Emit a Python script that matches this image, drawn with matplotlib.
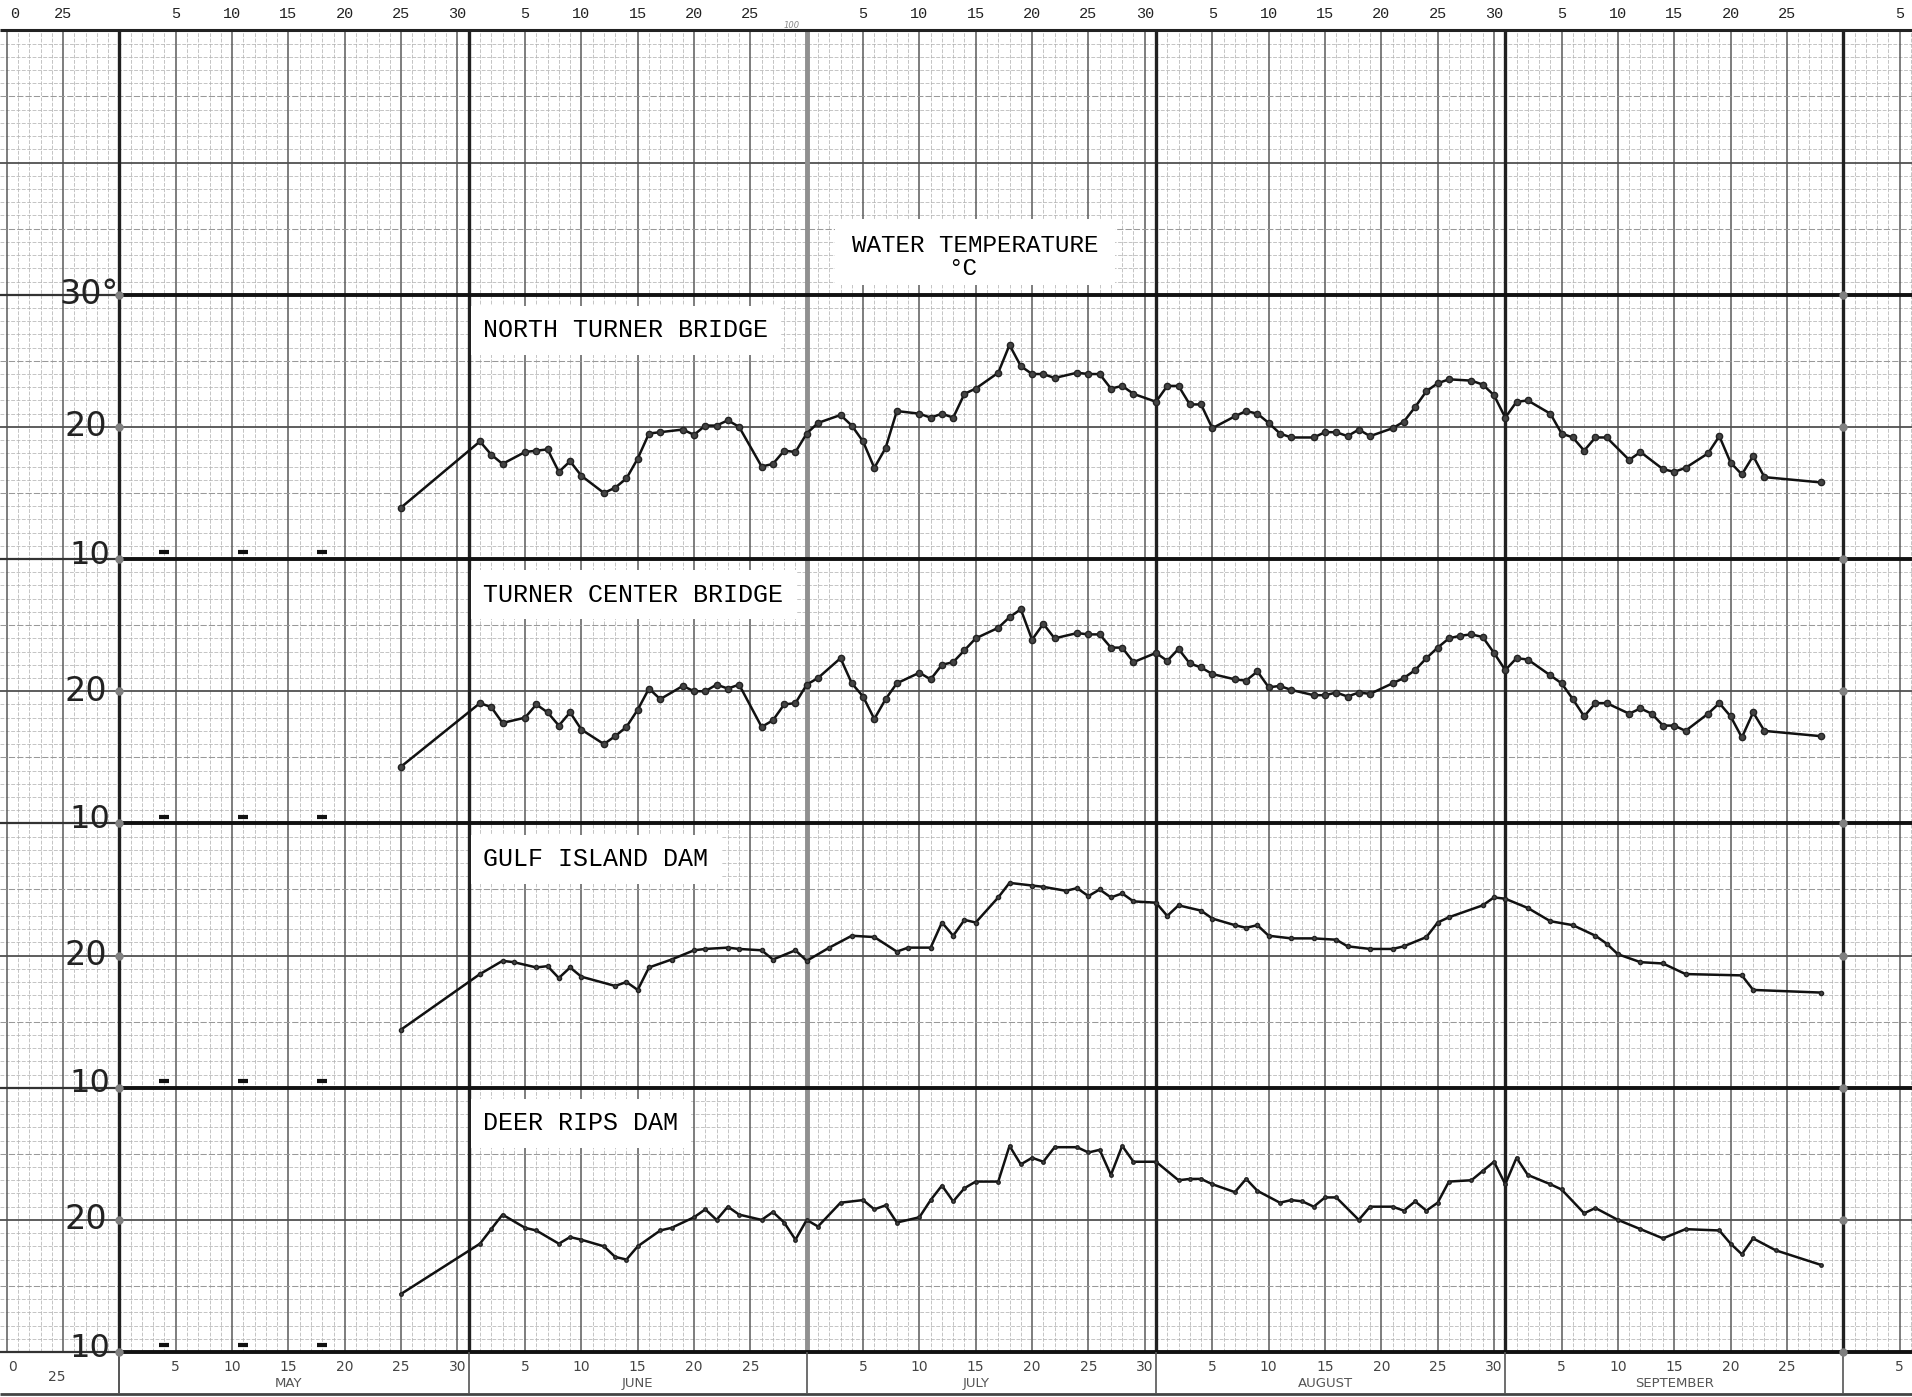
import matplotlib.pyplot as plt
import numpy as np

# day index: days after April 30 (May 1 = 1, June 1 = 32, July 1 = 62, Aug 1 = 93, Sept 1 = 124)
north_days = [25, 32, 33, 34, 36, 37, 38, 39, 40, 41, 43, 44, 45, 46, 47, 48, 50, 51, 52, 53,
              54, 55, 57, 58, 59, 60, 61, 62, 64, 65, 66, 67, 68, 69, 71, 72, 73, 74, 75, 76,
              78, 79, 80, 81, 82, 83, 85, 86, 87, 88, 89, 90, 92, 93, 94, 95, 96, 97, 99, 100,
              101, 102, 103, 104, 106, 107, 108, 109, 110, 111, 113, 114, 115, 116, 117, 118, 120, 121, 122, 123,
              124, 125, 127, 128, 129, 130, 131, 132, 134, 135, 137, 138, 139, 141, 142, 143, 144, 145, 146, 151]
north_temp = [13.9, 18.9, 17.9, 17.2, 18.1, 18.2, 18.3, 16.6, 17.4, 16.3, 15.0, 15.4, 16.1, 17.6, 19.5, 19.6, 19.8, 19.4, 20.1, 20.1,
              20.5, 20.0, 17.0, 17.2, 18.2, 18.1, 19.5, 20.3, 20.9, 20.1, 18.9, 16.9, 18.4, 21.2, 21.0, 20.7, 21.0, 20.7, 22.5, 22.9,
              24.1, 26.2, 24.6, 24.0, 24.0, 23.7, 24.1, 24.0, 24.0, 22.9, 23.1, 22.5, 21.9, 23.1, 23.1, 21.7, 21.7, 19.9, 20.8, 21.2,
              21.0, 20.3, 19.5, 19.2, 19.2, 19.6, 19.6, 19.3, 19.8, 19.3, 19.9, 20.4, 21.5, 22.7, 23.3, 23.6, 23.5, 23.2, 22.4, 20.7,
              21.9, 22.0, 21.0, 19.5, 19.2, 18.2, 19.2, 19.2, 17.5, 18.1, 16.8, 16.6, 16.9, 18.0, 19.3, 17.3, 16.4, 17.8, 16.2, 15.8]

center_days = [25, 32, 33, 34, 36, 37, 38, 39, 40, 41, 43, 44, 45, 46, 47, 48, 50, 51, 52, 53,
               54, 55, 57, 58, 59, 60, 61, 62, 64, 65, 66, 67, 68, 69, 71, 72, 73, 74, 75, 76,
               78, 79, 80, 81, 82, 83, 85, 86, 87, 88, 89, 90, 92, 93, 94, 95, 96, 97, 99, 100,
               101, 102, 103, 104, 106, 107, 108, 109, 110, 111, 113, 114, 115, 116, 117, 118, 119, 120, 121, 122,
               123, 124, 125, 127, 128, 129, 130, 131, 132, 134, 135, 136, 137, 138, 139, 141, 142, 143, 144, 145,
               146, 151]
center_temp = [14.3, 19.1, 18.8, 17.6, 18.0, 19.0, 18.4, 17.4, 18.4, 17.1, 16.0, 16.6, 17.3, 18.6, 20.2, 19.4, 20.4, 20.0, 20.0, 20.5,
               20.2, 20.5, 17.3, 17.8, 19.0, 19.1, 20.5, 21.0, 22.5, 20.6, 19.6, 17.9, 19.4, 20.6, 21.4, 20.9, 22.0, 22.2, 23.1, 24.0,
               24.8, 25.6, 26.2, 23.9, 25.1, 24.0, 24.4, 24.3, 24.3, 23.3, 23.3, 22.2, 22.9, 22.3, 23.2, 22.1, 21.8, 21.3, 20.9, 20.8,
               21.5, 20.3, 20.4, 20.1, 19.7, 19.7, 19.9, 19.6, 19.9, 19.8, 20.6, 21.0, 21.6, 22.5, 23.3, 24.0, 24.2, 24.3, 24.1, 22.9,
               21.6, 22.5, 22.4, 21.2, 20.6, 19.4, 18.1, 19.1, 19.1, 18.3, 18.7, 18.3, 17.4, 17.4, 17.0, 18.3, 19.1, 18.1, 16.5, 18.4,
               17.0, 16.6]

gulf_days = [25, 32, 34, 35, 37, 38, 39, 40, 41, 44, 45, 46, 47, 49, 51, 52, 54, 55, 57, 58,
             60, 61, 63, 65, 67, 69, 70, 72, 73, 74, 75, 76, 78, 79, 81, 82, 84, 85, 86, 87,
             88, 89, 90, 92, 93, 94, 96, 97, 99, 100, 101, 102, 104, 106, 108, 109, 111, 113, 114, 116,
             117, 118, 121, 122, 123, 125, 127, 129, 131, 132, 133, 135, 137, 139, 144, 145, 151]
gulf_temp = [14.4, 18.6, 19.6, 19.5, 19.1, 19.2, 18.3, 19.1, 18.4, 17.7, 18.0, 17.4, 19.1, 19.7, 20.4, 20.5, 20.6, 20.5, 20.4, 19.7,
             20.4, 19.6, 20.6, 21.5, 21.4, 20.3, 20.6, 20.6, 22.5, 21.5, 22.7, 22.5, 24.4, 25.5, 25.3, 25.2, 24.9, 25.1, 24.5, 25.0,
             24.4, 24.7, 24.1, 24.0, 23.0, 23.8, 23.4, 22.8, 22.3, 22.1, 22.3, 21.5, 21.3, 21.3, 21.2, 20.7, 20.5, 20.5, 20.7, 21.4,
             22.5, 22.9, 23.8, 24.4, 24.3, 23.6, 22.6, 22.3, 21.5, 20.9, 20.1, 19.5, 19.4, 18.6, 18.5, 17.4, 17.2]

deer_days = [25, 32, 33, 34, 36, 37, 39, 40, 41, 43, 44, 45, 46, 48, 49, 51, 52, 53, 54, 55,
             57, 58, 59, 60, 61, 62, 64, 66, 67, 68, 69, 71, 72, 73, 74, 75, 76, 78, 79, 80,
             81, 82, 83, 85, 86, 87, 88, 89, 90, 92, 94, 95, 96, 97, 99, 100, 101, 103, 104, 105,
             106, 107, 108, 110, 111, 113, 114, 115, 116, 117, 118, 120, 121, 122, 123, 124, 125, 127, 128, 130,
             131, 133, 135, 137, 139, 142, 143, 144, 145, 147, 151]
deer_temp = [14.4, 18.2, 19.3, 20.4, 19.4, 19.2, 18.2, 18.7, 18.5, 18.0, 17.2, 17.0, 18.0, 19.2, 19.4, 20.2, 20.8, 20.0, 21.0, 20.4,
             20.0, 20.6, 19.8, 18.5, 20.0, 19.5, 21.3, 21.5, 20.8, 21.1, 19.8, 20.2, 21.5, 22.6, 21.4, 22.4, 22.9, 22.9, 25.6, 24.2,
             24.7, 24.4, 25.5, 25.5, 25.1, 25.3, 23.4, 25.6, 24.4, 24.4, 23.0, 23.1, 23.1, 22.7, 22.1, 23.1, 22.2, 21.3, 21.5, 21.4,
             21.0, 21.7, 21.7, 20.0, 21.0, 21.0, 20.7, 21.4, 20.7, 21.3, 22.9, 23.0, 23.7, 24.4, 22.7, 24.7, 23.4, 22.7, 22.3, 20.5,
             20.9, 20.0, 19.3, 18.6, 19.3, 19.2, 18.2, 17.4, 18.6, 17.7, 16.6]

stations = ['NORTH TURNER BRIDGE', 'TURNER CENTER BRIDGE', 'GULF ISLAND DAM', 'DEER RIPS DAM']
offsets = [60, 40, 20, 0]          # each panel spans 10-30 C, stacked
mark_days = [4, 11, 18]            # small ticks near 10 C in every panel
mark_temp = 10.5

month_lines = [0, 31, 61, 92, 123, 153]
month_names = ['MAY', 'JUNE', 'JULY', 'AUGUST', 'SEPTEMBER']
month_ticks = [[5, 10, 15, 20, 25, 30], [5, 10, 15, 20, 25], [5, 10, 15, 20, 25, 30],
               [5, 10, 15, 20, 25, 30], [5, 10, 15, 20, 25]]

X0, X1 = -10.6, 159.1
fig = plt.figure(figsize=(19.12, 13.97), dpi=100)
ax = fig.add_axes([0, 0, 1, 1])
ax.set_xlim(X0, X1)
ax.set_ylim(6.6, 112.3)
ax.axis('off')

# ---- graph paper ----
label_days = [-10, -5] + [m + t for m, ts in zip(month_lines, month_ticks) for t in ts] + [158]
all_days = np.arange(-10, 160)
minor_v = [d for d in all_days if d not in label_days and d not in month_lines]
ax.vlines(minor_v, 10, 110, colors='#b4b4b4', lw=0.55, linestyles=(0, (5, 2)), zorder=1)
ax.vlines(label_days, 10, 110, colors='#5a5a5a', lw=1.1, zorder=2)
ax.vlines(month_lines, 10, 110, colors='#202020', lw=2.4, zorder=3)
ax.vlines([61], 10, 110, colors='#909090', lw=3.5, zorder=3)

ys = np.arange(10, 111)
ax.hlines([y for y in ys if y % 5], X0, X1, colors='#b4b4b4', lw=0.55, linestyles=(0, (5, 2)), zorder=1)
ax.hlines([y for y in ys if y % 5 == 0 and y % 10], X0, X1, colors='#999999', lw=0.75,
          linestyles=(0, (6, 2)), zorder=2)
ax.hlines([20, 40, 60, 80, 100], X0, X1, colors='#505050', lw=1.3, zorder=2)
ax.hlines([10, 30, 50, 70, 90], 0, X1, colors='#111111', lw=2.8, zorder=3)
ax.hlines([10, 30, 50, 70, 90], X0, 0, colors='#333333', lw=1.6, zorder=3)
ax.hlines([110], X0, X1, colors='#222222', lw=2.2, zorder=3)
ax.hlines([6.85], X0, X1, colors='#444444', lw=2.0, zorder=3)
ax.vlines([0] + month_lines, 6.85, 10, colors='#555555', lw=1.2, zorder=3)
for xb in [0, 153]:
    ax.plot([xb] * 9, np.arange(10, 100, 10), 'o', color='#808080', ms=5, zorder=4)

# ---- date labels, top and bottom ----
mono = ['Liberation Mono', 'DejaVu Sans Mono']
for m, ts in zip(month_lines, month_ticks):
    for t in ts:
        ax.text(m + t, 111.25, str(t), ha='center', va='center', fontsize=11, family=mono, color='#222')
        ax.text(m + t, 8.9, str(t), ha='center', va='center', fontsize=10, color='#444')
for m, name in zip(month_lines, month_names):
    ax.text(m + 15, 7.65, name, ha='center', va='center', fontsize=9.5, color='#555')
for d, s in [(-9.3, '0'), (-5, '25'), (158, '5')]:
    ax.text(d, 111.25, s, ha='center', va='center', fontsize=11, family=mono, color='#222')
for d, y, s in [(-9.5, 8.9, '0'), (-5.6, 8.1, '25'), (158, 8.9, '5')]:
    ax.text(d, y, s, ha='center', va='center', fontsize=10, color='#444')
ax.text(59.7, 110.4, '100', ha='center', va='center', fontsize=6, color='#888', style='italic')

# ---- handwritten y labels ----
for y in [80, 60, 40, 20]:
    ax.text(-3.0, y, '20', ha='center', va='center', fontsize=24, color='#222')
for y in [70, 50, 30, 10]:
    ax.text(-2.6, y + 0.3, '10', ha='center', va='center', fontsize=23, color='#222')
ax.text(-2.7, 90, '30°', ha='center', va='center', fontsize=24, color='#222')

# ---- title box ----
ax.add_patch(plt.Rectangle((63.5, 90.7), 24.9, 5.0, facecolor='white', edgecolor='none', zorder=5))
ax.text(76.0, 93.7, 'WATER TEMPERATURE', ha='center', va='center', fontsize=17.5, family=mono, zorder=6)
ax.text(74.8, 92.0, '°C', ha='center', va='center', fontsize=17.5, family=mono, zorder=6)

# ---- station curves ----
series = [(north_days, north_temp, 4.5), (center_days, center_temp, 4.5),
          (gulf_days, gulf_temp, 3.0), (deer_days, deer_temp, 2.5)]
for (d, t, ms), name, off in zip(series, stations, offsets):
    ax.plot(d, np.array(t) + off, '-o', color='#111111', lw=1.8, ms=ms,
            markerfacecolor='#444444', markeredgecolor='#222222', zorder=7)
    ax.text(32.3, off + 27.3, name, ha='left', va='center', fontsize=18, family=mono, zorder=6,
            bbox=dict(facecolor='white', edgecolor='none', pad=9))
    ax.plot(mark_days, [mark_temp + off] * len(mark_days), '_', color='#111', ms=7, mew=3, zorder=7)

fig.savefig('out.png', dpi=100, facecolor='white')
